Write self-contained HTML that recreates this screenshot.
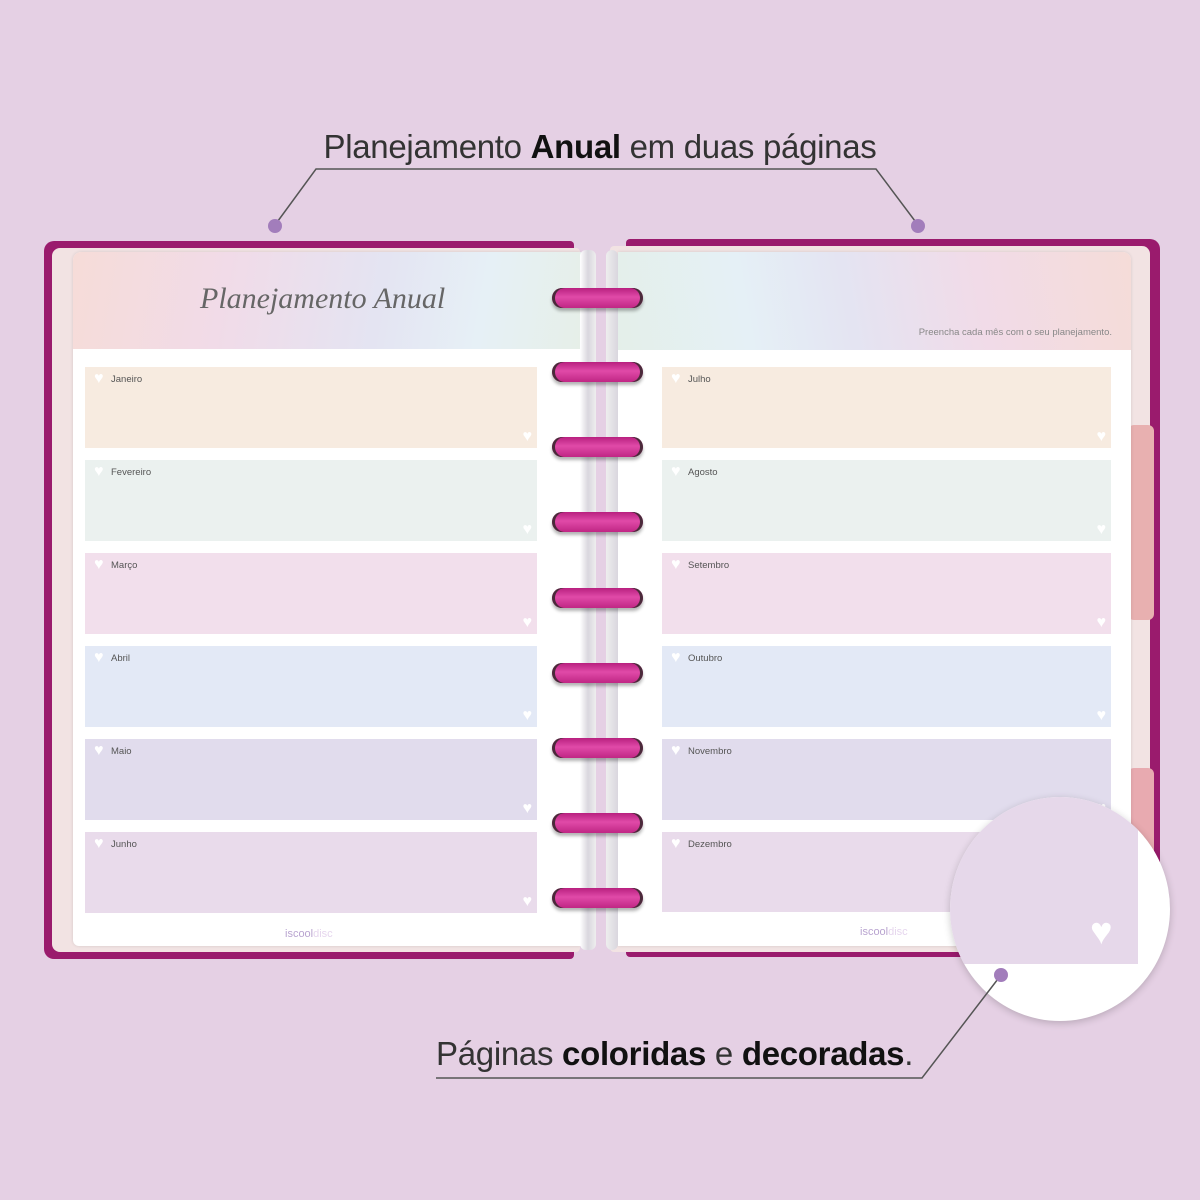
<!DOCTYPE html>
<html><head><meta charset="utf-8"><style>
*{margin:0;padding:0;box-sizing:border-box}
body{width:1200px;height:1200px;background:#e5d0e4;position:relative;overflow:hidden;font-family:"Liberation Sans",sans-serif}
.a{position:absolute}
.box{position:absolute;height:81px}
.box span{position:absolute;left:26px;top:7px;font-size:9.5px;color:#555}
.box i{position:absolute;left:9px;top:4px;font-style:normal;color:#fff;font-size:16px;line-height:16px}
.box b{position:absolute;right:5px;bottom:2px;color:#fff;font-size:16px;font-weight:normal}
.ring{position:absolute;left:552px;width:91px;height:20px;border-radius:10px;background:linear-gradient(#b8207f,#e04aa8 45%,#c02684);box-shadow:0 3px 3px rgba(0,0,0,.3),inset 3px 0 0 #4a2a3a,inset -3px 0 0 #4a2a3a}
</style></head><body>
<div class="a" style="left:44px;top:241px;width:530px;height:718px;background:#9a1b6d;border-radius:10px 4px 4px 10px"></div>
<div class="a" style="left:52px;top:248px;width:528px;height:704px;background:#f2e3e3;border-radius:8px 4px 4px 8px"></div>
<div class="a" style="left:73px;top:252px;width:508px;height:694px;background:#fff;border-radius:8px 0 0 6px;box-shadow:0 0 3px rgba(0,0,0,.12)"></div>
<div class="a" style="left:73px;top:252px;width:508px;height:97px;border-radius:8px 0 0 0;background:linear-gradient(100deg,#f6dcd8 0%,#f1dbe8 30%,#e4e4f2 60%,#e6f0f6 80%,#e6efe8 100%)"></div>
<div class="a" style="left:200px;top:282px;font-family:'Liberation Serif',serif;font-style:italic;font-size:30px;color:#666">Planejamento Anual</div>
<div class="a" style="left:626px;top:239px;width:534px;height:718px;background:#9a1b6d;border-radius:4px 10px 10px 4px"></div>
<div class="a" style="left:610px;top:246px;width:540px;height:706px;background:#f2e3e3;border-radius:4px 8px 8px 4px"></div>
<div class="a" style="left:1128px;top:425px;width:26px;height:195px;background:#e8b0b0;border-radius:6px"></div>
<div class="a" style="left:1128px;top:768px;width:26px;height:110px;background:#e8aab0;border-radius:6px"></div>
<div class="a" style="left:618px;top:252px;width:513px;height:694px;background:#fff;border-radius:0 8px 6px 0;box-shadow:0 0 3px rgba(0,0,0,.12)"></div>
<div class="a" style="left:618px;top:252px;width:513px;height:98px;border-radius:0 8px 0 0;background:linear-gradient(80deg,#e4efe9 0%,#e5f0f6 25%,#e4e4f2 45%,#f1dbe8 70%,#f5dcd8 100%)"></div>
<div class="a" style="left:888px;top:327px;width:224px;text-align:right;font-size:9.5px;color:#888">Preencha cada mês com o seu planejamento.</div>
<div class="a" style="left:580px;top:250px;width:16px;height:700px;background:linear-gradient(90deg,#fff,#d9d6de 50%,#eee);border-radius:6px"></div>
<div class="a" style="left:606px;top:250px;width:12px;height:700px;background:linear-gradient(90deg,#eee,#d9d6de);border-radius:6px"></div>
<div class="box" style="left:85px;top:367px;width:452px;background:#f7ebe0"><i>♥</i><span>Janeiro</span><b>♥</b></div>
<div class="box" style="left:85px;top:460px;width:452px;background:#ebf1ef"><i>♥</i><span>Fevereiro</span><b>♥</b></div>
<div class="box" style="left:85px;top:553px;width:452px;background:#f2dfec"><i>♥</i><span>Março</span><b>♥</b></div>
<div class="box" style="left:85px;top:646px;width:452px;background:#e3e9f6"><i>♥</i><span>Abril</span><b>♥</b></div>
<div class="box" style="left:85px;top:739px;width:452px;background:#e1dced"><i>♥</i><span>Maio</span><b>♥</b></div>
<div class="box" style="left:85px;top:832px;width:452px;background:#e9dbeb"><i>♥</i><span>Junho</span><b>♥</b></div>
<div class="a" style="left:285px;top:928px;font-size:11px;color:#b9a4d0">iscool<span style="color:#e6d6ee">disc</span></div>
<div class="box" style="left:662px;top:367px;width:449px;background:#f7ebe0"><i>♥</i><span>Julho</span><b>♥</b></div>
<div class="box" style="left:662px;top:460px;width:449px;background:#ebf1ef"><i>♥</i><span>Agosto</span><b>♥</b></div>
<div class="box" style="left:662px;top:553px;width:449px;background:#f2dfec"><i>♥</i><span>Setembro</span><b>♥</b></div>
<div class="box" style="left:662px;top:646px;width:449px;background:#e3e9f6"><i>♥</i><span>Outubro</span><b>♥</b></div>
<div class="box" style="left:662px;top:739px;width:449px;background:#e1dced"><i>♥</i><span>Novembro</span><b>♥</b></div>
<div class="box" style="left:662px;top:832px;width:449px;height:80px;background:#e9dbeb"><i>♥</i><span>Dezembro</span></div>
<div class="a" style="left:860px;top:926px;font-size:11px;color:#b9a4d0">iscool<span style="color:#e6d6ee">disc</span></div>
<div class="ring" style="top:288px"></div><div class="ring" style="top:362px"></div><div class="ring" style="top:437px"></div>
<div class="ring" style="top:512px"></div><div class="ring" style="top:588px"></div><div class="ring" style="top:663px"></div>
<div class="ring" style="top:738px"></div><div class="ring" style="top:813px"></div><div class="ring" style="top:888px"></div>
<div class="a" style="left:950px;top:797px;width:220px;height:224px;border-radius:50%;background:#fff;overflow:hidden;box-shadow:0 2px 8px rgba(0,0,0,.2)">
<div class="a" style="left:0;top:0;width:188px;height:167px;background:#e6d8ea"></div>
<div class="a" style="left:140px;top:116px;color:#fff;font-size:38px;line-height:38px">♥</div>
</div>
<svg class="a" style="left:0;top:0" width="1200" height="1200">
<polyline points="275,225 316,169 876,169 918,225" fill="none" stroke="#555" stroke-width="1.5"/>
<circle cx="275" cy="226" r="7" fill="#a27dbb"/><circle cx="918" cy="226" r="7" fill="#a27dbb"/>
<polyline points="1001,975 922,1078 436,1078" fill="none" stroke="#555" stroke-width="1.5"/>
<circle cx="1001" cy="975" r="7" fill="#a27dbb"/>
</svg>
<div class="a" style="left:0;top:128px;width:1200px;text-align:center;font-size:33px;color:#333;letter-spacing:-0.3px">Planejamento <b style="color:#111">Anual</b> em duas páginas</div>
<div class="a" style="left:436px;top:1035px;font-size:33px;color:#333;letter-spacing:-0.3px">Páginas <b style="color:#111">coloridas</b> e <b style="color:#111">decoradas</b>.</div>
</body></html>
